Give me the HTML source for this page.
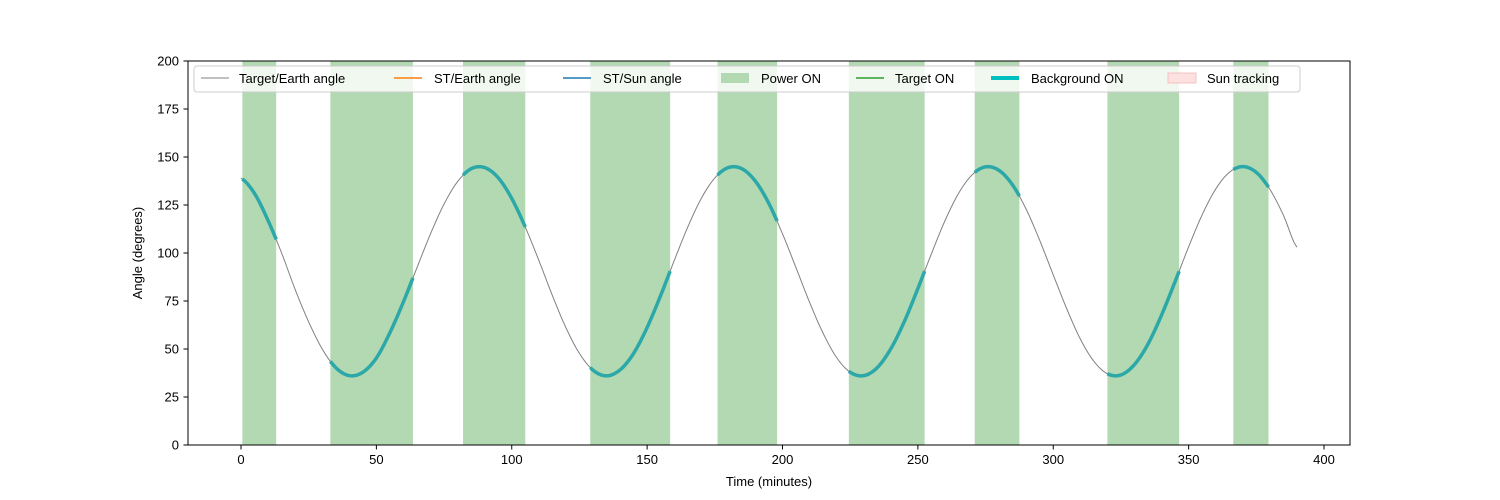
<!DOCTYPE html>
<html><head><meta charset="utf-8"><style>
html,body{margin:0;padding:0;background:#fff;}
svg{display:block;font-family:"Liberation Sans","DejaVu Sans",sans-serif;}
</style></head><body>
<svg id="chart" width="1500" height="500" viewBox="0 0 1500 500" xmlns="http://www.w3.org/2000/svg">
<g id="bands"></g>
<g id="lines"></g>
<rect x="188" y="61" width="1162" height="384" fill="none" stroke="#000" stroke-width="1"/>
<g id="xticks"></g>
<g id="yticks"></g>
<text x="769" y="486" font-size="13" text-anchor="middle">Time (minutes)</text>
<text x="142" y="253" font-size="13" text-anchor="middle" transform="rotate(-90 142 253)">Angle (degrees)</text>
<g>
<rect x="194" y="66" width="1106" height="26" rx="3" fill="#fff" fill-opacity="0.8" stroke="#ccc"/>
<g><line x1="201" y1="78" x2="229" y2="78" stroke="#808080" stroke-width="1"/><text x="239" y="83" font-size="13">Target/Earth angle</text></g>
<g><line x1="394" y1="78" x2="422" y2="78" stroke="#ff7f0e" stroke-width="1.5"/><text x="434" y="83" font-size="13">ST/Earth angle</text></g>
<g><line x1="563" y1="78" x2="591" y2="78" stroke="#1f77b4" stroke-width="1.5"/><text x="603" y="83" font-size="13">ST/Sun angle</text></g>
<g><rect x="721" y="73" width="28" height="10" fill="#b3d9b3"/><text x="761" y="83" font-size="13">Power ON</text></g>
<g><line x1="856" y1="78" x2="884" y2="78" stroke="#2ca02c" stroke-width="1.5"/><text x="895" y="83" font-size="13">Target ON</text></g>
<g><line x1="991" y1="78" x2="1019" y2="78" stroke="#00bfbf" stroke-width="4"/><text x="1031" y="83" font-size="13">Background ON</text></g>
<g><rect x="1168" y="73" width="28" height="10" fill="#fde0e0" stroke="#f4b6b6" stroke-width="0.8"/><text x="1207" y="83" font-size="13">Sun tracking</text></g>
</g>
</svg>
<script>
const times = [0,5,10,15,20,25,30,35,40,45,50,55,60,65,70,75,80,85,90,95,100,105,110,115,120,125,130,135,140,145,150,155,160,165,170,175,180,185,190,195,200,205,210,215,220,225,230,235,240,245,250,255,260,265,270,275,280,285,290,295,300,305,310,315,320,325,330,335,340,345,350,355,360,365,370,375,380,385,390];
const angles = [139,131,116.9,100,81,64.1,50,40.3,36.1,37.9,45.3,58.5,74.6,92.4,110,125.5,137.2,143.9,144.5,139.2,128.4,113.5,96.2,77.9,61.1,47.7,39,36,39.1,47.7,61.2,77.9,96,113.5,128.4,139.1,144.5,143.9,137.4,125.7,110,92.3,74.3,58.2,45.5,37.9,36.1,40.3,50.1,64.3,81.5,99.6,116.8,131,140.7,144.9,143,135.4,122.8,106.6,88.6,70.9,55.2,43.6,37.1,36.5,41.9,52.6,67.7,85.1,103.2,119.9,133.3,142,145,142,133.2,119.7,103];
const powerStart = [0.5,33,82,129,176,224.5,271,320,366.5];
const powerEnd = [13,63.5,105,158.5,198,252.5,287.5,346.5,379.5];
const xTicks = [0,50,100,150,200,250,300,350,400];
const yTicks = [0,25,50,75,100,125,150,175,200];

const NS="http://www.w3.org/2000/svg";
const X = t => 241 + t*(1324-241)/400;
const Y = v => 445 - v*384/200;
function mk(tag, attrs, parent){const e=document.createElementNS(NS,tag);for(const k in attrs)e.setAttribute(k,attrs[k]);parent.appendChild(e);return e;}
function interp(t){
  const n=times.length;
  for(let i=0;i<n-1;i++){
    if(t>=times[i]&&t<=times[i+1]){
      const f=(t-times[i])/(times[i+1]-times[i]);
      const p0=angles[Math.max(i-1,0)],p1=angles[i],p2=angles[i+1],p3=angles[Math.min(i+2,n-1)];
      const f2=f*f,f3=f2*f;
      return 0.5*((2*p1)+(-p0+p2)*f+(2*p0-5*p1+4*p2-p3)*f2+(-p0+3*p1-3*p2+p3)*f3);
    }
  }
  return angles[n-1];
}
function curvePts(s,e){const pts=[];for(let t=s;t<e;t+=1)pts.push(X(t)+','+Y(interp(t)));pts.push(X(e)+','+Y(interp(e)));return pts.join(' ');}

const bands=document.getElementById('bands');
powerStart.forEach((s,i)=>{
  const r=mk('rect',{x:X(s),y:61,width:X(powerEnd[i])-X(s),height:384,fill:'#b3d9b3'},bands);
  
  
});
const lines=document.getElementById('lines');
const main=mk('polyline',{points:curvePts(times[0],times[times.length-1]),fill:'none',stroke:'#808080','stroke-width':1},lines);


powerStart.forEach((s,i)=>{
  const p=mk('polyline',{points:curvePts(s,powerEnd[i]),fill:'none',stroke:'#2ca8a8','stroke-width':3.5},lines);
  
  
});
const xg=document.getElementById('xticks');
xTicks.forEach(t=>{
  const l=mk('line',{x1:X(t),x2:X(t),y1:445,y2:449.5,stroke:'#000'},xg);
  
  
  const tx=mk('text',{x:X(t),y:464,'font-size':13,'text-anchor':'middle'},xg);
  tx.textContent=t;
  
  
});
const yg=document.getElementById('yticks');
yTicks.forEach(v=>{
  const l=mk('line',{x1:183.5,x2:188,y1:Y(v),y2:Y(v),stroke:'#000'},yg);
  
  
  const tx=mk('text',{x:179,y:Y(v)+4.5,'font-size':13,'text-anchor':'end'},yg);
  tx.textContent=v;
  
  
});
</script>
</body></html>
